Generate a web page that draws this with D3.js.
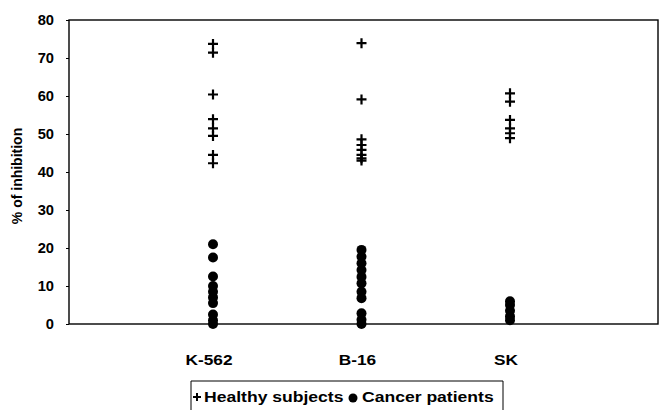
<!DOCTYPE html>
<html>
<head>
<meta charset="utf-8">
<script src="https://d3js.org/d3.v7.min.js"></script>
<style>
  body { margin: 0; background: #fff; }
  text { font-family: "Liberation Sans", Arial, sans-serif; font-weight: bold; fill: #000; }
</style>
</head>
<body>
<svg width="660" height="410"></svg>
<script>
// categories on the x axis (positions 1..3)
var categories = ["K-562", "B-16", "SK"];
// % of inhibition
var healthy = [
  [73.7, 71.4, 60.4, 53.9, 51.5, 49.5, 44.5, 42.3],   // K-562
  [73.9, 59.1, 48.6, 47.1, 45.8, 44.5, 43.6, 43.0],   // B-16
  [60.7, 58.5, 53.7, 51.5, 50.2, 48.9]                // SK
];
var cancer = [
  [21, 17.5, 12.5, 10, 8.5, 7, 5.5, 2.5, 1, 0],       // K-562
  [19.5, 17.7, 16, 14.2, 12.4, 10.7, 8.5, 6.8, 2.8, 1.1, 0], // B-16
  [6, 5, 3.5, 2, 1]                                   // SK
];
var yTicks = [0, 10, 20, 30, 40, 50, 60, 70, 80];
var legendLabels = ["Healthy subjects", "Cancer patients"];

var svg = d3.select("svg");

var xScale = d3.scaleLinear().domain([0, 4]).range([64.5, 658.5]);
var yScale = d3.scaleLinear().domain([0, 80]).range([324, 20]);

// scanned original is a bit wider than the font
function stretch(sel, k) {
  sel.each(function() {
    var len = this.getComputedTextLength();
    d3.select(this).attr("textLength", len * k).attr("lengthAdjust", "spacingAndGlyphs");
  });
}

// plot frame
svg.append("rect")
  .attr("x", 69).attr("y", yScale(80))
  .attr("width", 658 - 69).attr("height", yScale(0) - yScale(80))
  .attr("fill", "none").attr("stroke", "#000").attr("stroke-width", 1.4);

// y axis
var yAxis = d3.axisLeft(yScale).tickValues(yTicks).tickSize(3).tickPadding(12);
var gy = svg.append("g").attr("transform", "translate(69,0)").call(yAxis);
gy.select(".domain").remove();
gy.selectAll(".tick line").attr("stroke", "#000");
gy.selectAll(".tick text")
  .style("font-size", "14px").style("font-family", null).attr("font-family", null);
stretch(gy.selectAll(".tick text"), 1.05);

svg.append("text")
  .attr("transform", "translate(22," + (yScale(40) + 4) + ") rotate(-90)")
  .attr("text-anchor", "middle")
  .style("font-size", "14px")
  .text("% of inhibition");

// category labels
var catLabels = svg.selectAll(".cat").data(categories).enter().append("text")
  .attr("class", "cat")
  .attr("x", function(d, i) { return xScale(i + 1) - 4; })
  .attr("y", 365)
  .attr("text-anchor", "middle")
  .style("font-size", "15px")
  .text(function(d) { return d; });
stretch(catLabels, 1.15);

// cancer patients: filled circles
cancer.forEach(function(vals, i) {
  svg.selectAll(".c" + i).data(vals).enter().append("circle")
    .attr("class", "c" + i)
    .attr("cx", xScale(i + 1))
    .attr("cy", function(d) { return yScale(d); })
    .attr("r", 5)
    .attr("fill", "#000");
});

// healthy subjects: plus markers
var plus = "M-5,0H5M0,-5V5";
healthy.forEach(function(vals, i) {
  svg.selectAll(".h" + i).data(vals).enter().append("path")
    .attr("class", "h" + i)
    .attr("transform", function(d) { return "translate(" + xScale(i + 1) + "," + yScale(d) + ")"; })
    .attr("d", plus)
    .attr("stroke", "#000").attr("stroke-width", 2.2).attr("fill", "none");
});

// legend
var lg = svg.append("g");
lg.append("path")
  .attr("d", "M191,414V381H503V414")
  .attr("fill", "none").attr("stroke", "#000").attr("stroke-width", 1);
lg.append("path")
  .attr("transform", "translate(197,397)")
  .attr("d", "M-4,0H4M0,-4V4")
  .attr("stroke", "#000").attr("stroke-width", 2).attr("fill", "none");
var t1 = lg.append("text").attr("x", 204).attr("y", 402)
  .style("font-size", "15px").text(legendLabels[0]);
stretch(t1, 1.17);
lg.append("circle").attr("cx", 353).attr("cy", 398).attr("r", 4.5).attr("fill", "#000");
var t2 = lg.append("text").attr("x", 362).attr("y", 402)
  .style("font-size", "15px").text(legendLabels[1]);
stretch(t2, 1.17);
</script>
</body>
</html>
